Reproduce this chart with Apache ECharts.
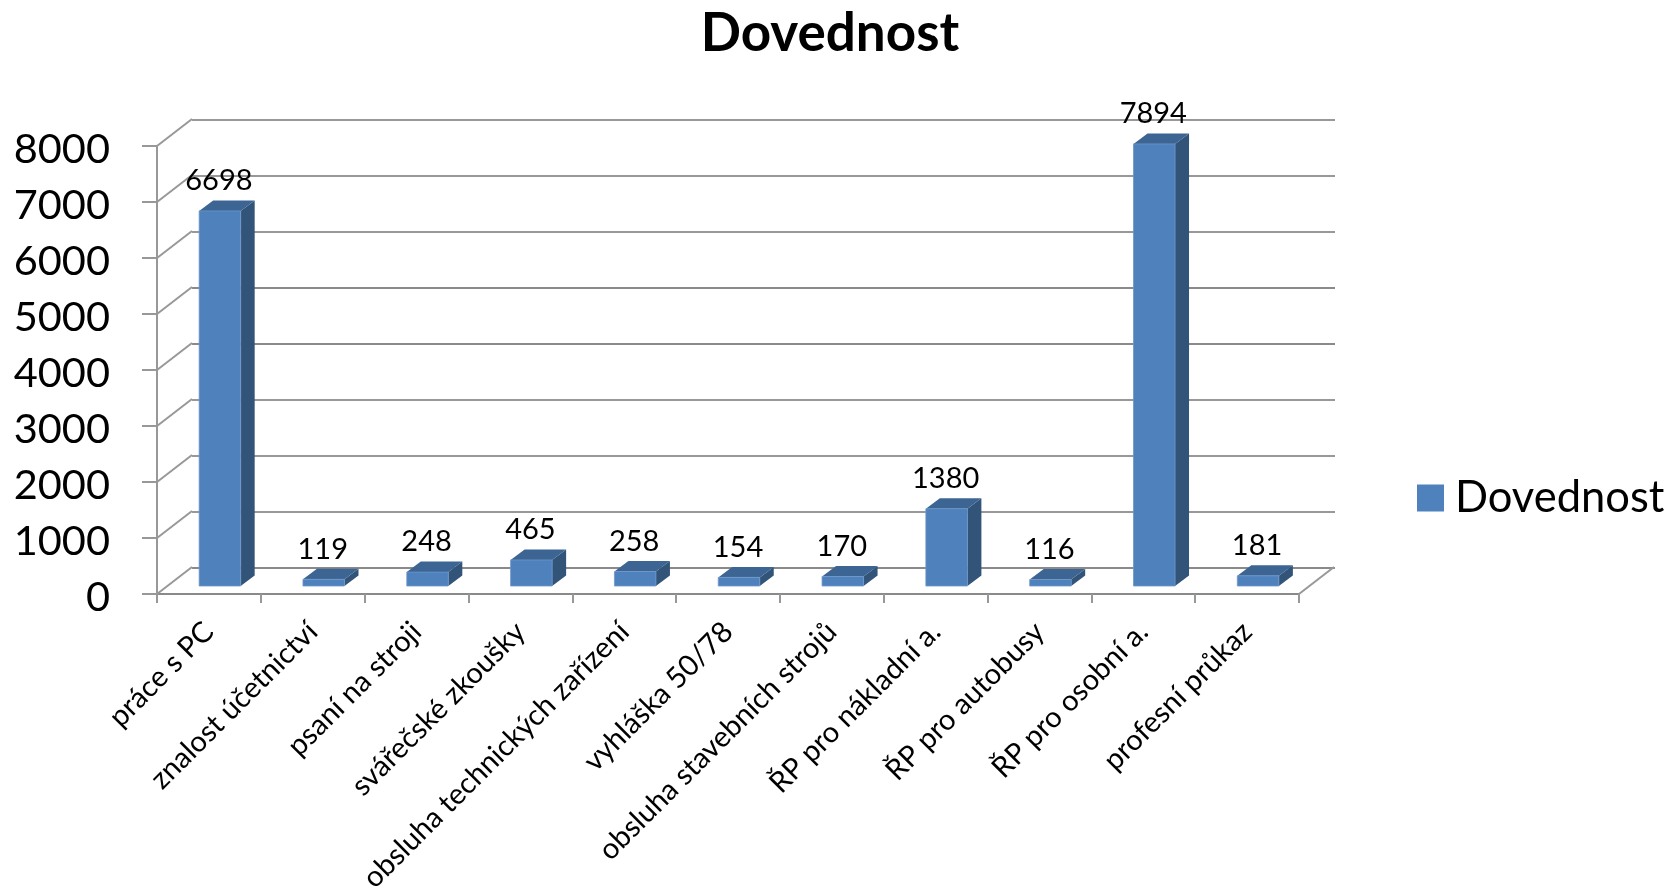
<!DOCTYPE html>
<html><head><meta charset="utf-8">
<style>html,body{margin:0;padding:0;background:#fff}#c{width:1671px;height:893px}</style>
<script src="https://cdn.jsdelivr.net/npm/echarts@6/dist/echarts.min.js"></script>
</head><body><div id="c"></div>
<script>
const categories = ['práce s PC','znalost účetnictví','psaní na stroji','svářečské zkoušky','obsluha technických zařízení','vyhláška 50/78','obsluha stavebních strojů','ŘP pro nákladní a.','ŘP pro autobusy','ŘP pro osobní a.','profesní průkaz'];
const values = [6698,119,248,465,258,154,170,1380,116,7894,181];
const ticks = [0,1000,2000,3000,4000,5000,6000,7000,8000];
const seriesName = 'Dovednost';
const FONT = 'Lato, "Open Sans", sans-serif';
const DEPTH_X = 35, DEPTH_Y = 27;
const LINE = '#989898', DARK = '#8a8a8a';
const chart = echarts.init(document.getElementById('c'), null, {renderer:'canvas'});

function renderSlant(params, api){
  const v = api.value(0);
  const half = api.size([1,0])[0] / 2;
  const p = api.coord([0, v]);
  const x = p[0] - half, y = p[1];
  const st = {stroke: LINE, lineWidth: 2, fill: null};
  const kids = [{type:'line', shape:{x1:x,y1:y,x2:x+DEPTH_X,y2:y-DEPTH_Y}, style:st}];
  if (v === 0) {
    const r = api.coord([categories.length-1, 0])[0] + half;
    kids.push({type:'line', shape:{x1:r,y1:y,x2:r+DEPTH_X,y2:y-DEPTH_Y}, style:st});
  }
  return {type:'group', children:kids};
}
function renderBar(params, api){
  const i = api.value(0), v = api.value(1);
  const band = api.size([1,0])[0];
  const w = band * 0.40;
  const top = api.coord([i, v]), base = api.coord([i, 0]);
  const cx = top[0] + 11, shift = 8;
  const l = cx - w/2, r = cx + w/2, t = top[1] - shift, b = base[1] - shift;
  const dx = 14, dy = 10.5;
  return {type:'group', children:[
    {type:'polygon', shape:{points:[[r,t],[r+dx,t-dy],[r+dx,b-dy],[r,b]]}, style:{fill:'#335479'}},
    {type:'polygon', shape:{points:[[l,t],[l+dx,t-dy],[r+dx,t-dy],[r,t]]}, style:{fill:'#3c6593'}},
    {type:'rect', shape:{x:l,y:t,width:w,height:b-t}, style:{fill:'#4f81bd', stroke:'#6d97c9', lineWidth:0.8}},
    {type:'text', x:cx-1, y:t-30, style:{text:String(v), fill:'#000', font:'29px '+FONT, textAlign:'center', textVerticalAlign:'middle'}}
  ]};
}
chart.setOption({
  animation:false,
  backgroundColor:'#fff',
  title:{text:seriesName, left:825, top:2, textAlign:'center',
    textStyle:{fontFamily:FONT, fontWeight:'bold', fontSize:53, color:'#000'}},
  legend:{data:[seriesName], left:1412, top:471, itemWidth:27, itemHeight:27, itemGap:0, icon:'rect',
    textStyle:{fontFamily:FONT, fontSize:43.5, color:'#000', padding:[0,0,0,6]}},
  grid:[
    {left:157, width:1142, top:146, height:448, outerBoundsMode:'none'},
    {left:192, width:1143, top:119.5, height:448, outerBoundsMode:'none'}
  ],
  xAxis:[
    {type:'category', gridIndex:0, data:categories, boundaryGap:true,
      axisLine:{show:true, lineStyle:{color:DARK,width:2}},
      axisTick:{show:true, length:9, alignWithLabel:false, interval:0, lineStyle:{color:LINE,width:2}},
      axisLabel:{interval:0, rotate:45, margin:33, color:'#000', fontFamily:FONT, fontSize:29, hideOverlap:false},
      splitLine:{show:false}},
    {type:'category', gridIndex:1, data:categories, show:false, boundaryGap:true}
  ],
  yAxis:[
    {type:'value', gridIndex:0, min:0, max:8000, interval:1000,
      axisLine:{show:true, onZero:false, lineStyle:{color:LINE,width:2}},
      axisTick:{show:true, length:15, lineStyle:{color:LINE,width:2}},
      axisLabel:{margin:47, color:'#000', fontFamily:FONT, fontSize:41.5, verticalAlign:'top', lineHeight:8, formatter:v=>String(v)},
      splitLine:{show:false}},
    {type:'value', gridIndex:1, min:0, max:8000, interval:1000, 
      axisLine:{show:false}, axisTick:{show:false}, axisLabel:{show:false},
      splitLine:{show:true, lineStyle:{width:2, color:[DARK,LINE,LINE,LINE,DARK,DARK,LINE,LINE,LINE]}}}
  ],
  series:[
    {type:'custom', name:'walls', xAxisIndex:0, yAxisIndex:0, z:1, silent:true, clip:false,
      data:ticks.map(t=>[t]), encode:{y:0}, renderItem:renderSlant},
    {type:'custom', name:seriesName, xAxisIndex:0, yAxisIndex:0, z:3, clip:false,
      itemStyle:{color:'#4f81bd'},
      data:values.map((v,i)=>[i,v]), encode:{x:0,y:1}, renderItem:renderBar}
  ]
});
</script></body></html>
